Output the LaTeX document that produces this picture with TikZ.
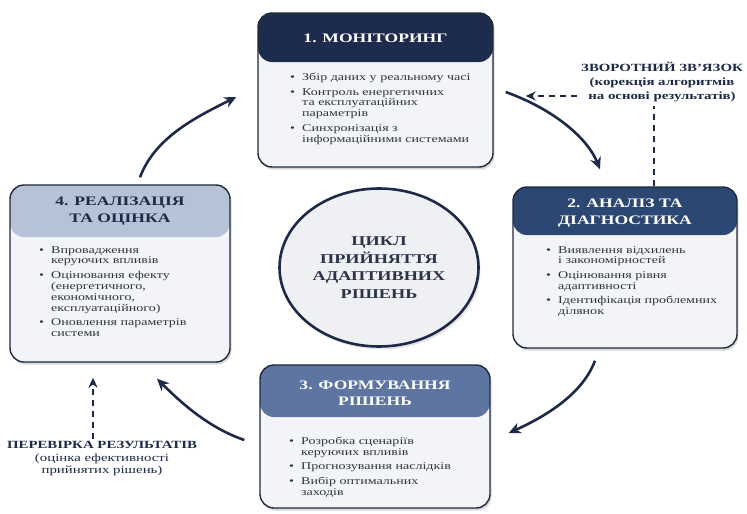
\documentclass[tikz,border=0pt]{standalone}
\usepackage{fontspec}
\setmainfont{Liberation Serif}[FakeStretch=1.35]
\usetikzlibrary{arrows.meta,shadows,shapes.geometric}
\definecolor{navy}{HTML}{1C2A47}
\definecolor{bordercol}{HTML}{1F2A3D}
\definecolor{hdrA}{HTML}{1D2B4C}
\definecolor{hdrB}{HTML}{2C4872}
\definecolor{hdrC}{HTML}{5D75A0}
\definecolor{hdrD}{HTML}{B6C3D7}
\definecolor{bodyfill}{HTML}{F3F4F7}
\definecolor{circfill}{HTML}{EEF0F4}
\definecolor{bodytext}{HTML}{30353F}
\definecolor{circtext}{HTML}{2B3448}
\newcommand\bl{\makebox[12pt][l]{\textbullet}}
\newcommand\bi{\hspace*{12pt}}
\begin{document}
\begin{tikzpicture}[x=1pt,y=-1pt,
  box/.style 2 args={draw=bordercol, line width=1.4pt, rounded corners=14pt, fill=bodyfill, inner sep=0pt,
    drop shadow={shadow xshift=1.5pt, shadow yshift=-2.5pt, opacity=0.3},
    path picture={\fill[#1] (path picture bounding box.north west) rectangle ([yshift=-#2]path picture bounding box.north east);}},
  hdrtext/.style={font=\fontsize{13}{16.5}\selectfont\bfseries, align=center, inner sep=0pt},
  bodytxt/.style={font=\fontsize{10.4}{10.9}\selectfont, text=bodytext, align=left, anchor=north west, inner sep=0pt},
  cyc/.style={draw=navy, line width=2.6pt, -{Stealth[length=12pt,width=11pt]}},
  dsh/.style={draw=navy, line width=2.4pt, dash pattern=on 6pt off 5pt},
  note/.style={text=navy, align=center, inner sep=0pt}
]
\useasboundingbox[fill=white] (0,0) rectangle (747,514);

% boxes
\node[box={hdrA}{49pt}, minimum width=235pt, minimum height=154pt] (b1) at (375.5,90) {};
\node[box={hdrB}{48pt}, minimum width=224pt, minimum height=161pt] (b2) at (625,267.5) {};
\node[box={hdrC}{52pt}, minimum width=230pt, minimum height=143pt] (b3) at (375,436.5) {};
\node[box={hdrD}{52pt}, minimum width=220pt, minimum height=177pt] (b4) at (120,273.5) {};

% headers
\node[hdrtext, text=white] (h1) at (375.5,38) {1. МОНІТОРИНГ};
\node[hdrtext, text=white] (h2) at (625,213) {2. АНАЛІЗ ТА\\ДІАГНОСТИКА};
\node[hdrtext, text=white] (h3) at (375,393) {3. ФОРМУВАННЯ\\РІШЕНЬ};
\node[hdrtext, text=navy] (h4) at (120,211) {4. РЕАЛІЗАЦІЯ\\ТА ОЦІНКА};

% bodies
\node[bodytxt] (t1) at (290,73) {\bl Збір даних у реальному часі\\[3.5pt]
\bl Контроль енергетичних\\
\bi та експлуатаційних\\
\bi параметрів\\[3.5pt]
\bl Синхронізація з\\
\bi інформаційними системами};
\node[bodytxt] (t2) at (546,246) {\bl Виявлення відхилень\\
\bi і закономірностей\\[3.5pt]
\bl Оцінювання рівня\\
\bi адаптивності\\[3.5pt]
\bl Ідентифікація проблемних\\
\bi ділянок};
\node[bodytxt] (t3) at (289,437) {\bl Розробка сценаріїв\\
\bi керуючих впливів\\[3.5pt]
\bl Прогнозування наслідків\\[3.5pt]
\bl Вибір оптимальних\\
\bi заходів};
\node[bodytxt] (t4) at (39,246) {\bl Впровадження\\
\bi керуючих впливів\\[3.5pt]
\bl Оцінювання ефекту\\
\bi (енергетичного,\\
\bi економічного,\\
\bi експлуатаційного)\\[3.5pt]
\bl Оновлення параметрів\\
\bi системи};

% centre
\node[ellipse, draw=navy, line width=2.6pt, fill=circfill, minimum width=199pt, minimum height=158pt,
  drop shadow={shadow xshift=2pt, shadow yshift=-3pt, opacity=0.2},
  text=circtext, font=\fontsize{13.5}{17.8}\selectfont\bfseries, align=center] (c) at (379,267.5)
  {ЦИКЛ\\ПРИЙНЯТТЯ\\АДАПТИВНИХ\\РІШЕНЬ};

% notes
\node[note, font=\fontsize{11}{14}\selectfont\bfseries] (fb) at (662,82)
  {ЗВОРОТНИЙ ЗВ'ЯЗОК\\(корекція алгоритмів\\на основі результатів)};
\node[note, font=\fontsize{11}{12.5}\selectfont] (pr) at (102,459)
  {\textbf{ПЕРЕВІРКА РЕЗУЛЬТАТІВ}\\(оцінка ефективності\\прийнятих рішень)};

% cycle arrows
\draw[cyc] ([shift={(12,2)}]b1.east) .. controls +(50,18) and +(-12,-30) .. ([shift={(-25,-17)}]b2.north);
\draw[cyc] ([shift={(-30,12)}]b2.south) .. controls +(-12,32) and +(40,-18) .. ([shift={(18,-3.5)}]b3.east);
\draw[cyc] ([shift={(-15,3.5)}]b3.west) .. controls +(-35,-12) and +(25,25) .. ([shift={(37,16)}]b4.south);
\draw[cyc] ([shift={(20,-7)}]b4.north) .. controls +(15,-40) and +(-40,20) .. ([shift={(-21,7)}]b1.west);

% dashed feedback
\draw[dsh] ([xshift=29pt]b2.north) -- ([shift={(-8,4)}]fb.south);
\draw[dsh, -{Stealth[length=10pt,width=9pt]}] ([shift={(-4,14)}]fb.west) -- ([shift={(32,6)}]b1.east);
\draw[dsh, -{Stealth[length=10pt,width=9pt]}] ([shift={(-9,-2)}]pr.north) -- ([shift={(-27,15)}]b4.south);
\end{tikzpicture}
\end{document}
